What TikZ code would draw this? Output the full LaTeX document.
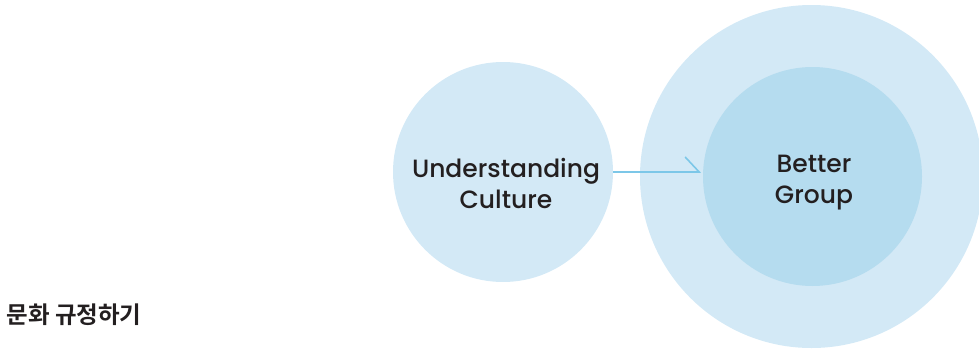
\documentclass[tikz,border=0pt]{standalone}
\usepackage{fontspec}
\setmainfont{Poppins}[UprightFont={* Medium}]
\newfontfamily\krfont{Noto Sans CJK KR}[BoldFont={* Bold}]
\usetikzlibrary{arrows.meta}
\definecolor{paleblue}{HTML}{D3E9F6}
\definecolor{midblue}{HTML}{B5DCEF}
\definecolor{linkblue}{HTML}{7CC7E8}
\definecolor{inkgray}{HTML}{231F20}
\tikzset{
  disc/.style={circle, fill=#1, draw=none, inner sep=0pt},
  label2/.style={align=center, text=inkgray, font=\fontsize{25}{31}\selectfont},
  link/.style={draw=linkblue, line width=1.6pt, -{Straight Barb[left, length=14pt, width=30pt, line width=1.6pt]}}
}
\begin{document}
\begin{tikzpicture}[x=1pt, y=-1pt]
  \useasboundingbox (0,0) rectangle (979,351);
  \clip (0,0) rectangle (979,351);
  % outer halo and inner core of the goal circle
  \node[disc=paleblue, minimum size=343pt] (outer) at (811.5,176.5) {};
  \node[disc=midblue, minimum size=219pt] (inner) at (812.5,176.5) {};
  % source circle
  \node[disc=paleblue, minimum size=220pt] (src) at (503,172) {};
  \node[label2] (srctext) at (506,183) {Understanding\\Culture};
  \node[label2] (goaltext) at (814,183) {Better\\Group};
  % connector
  \coordinate (tip) at (701,172);
  \draw[link] (src.east) -- (tip);
  % caption
  \node[anchor=west, text=inkgray, font=\krfont\bfseries\fontsize{23.5}{28}\selectfont] (cap) at (3,315) {문화 규정하기};
\end{tikzpicture}
\end{document}
